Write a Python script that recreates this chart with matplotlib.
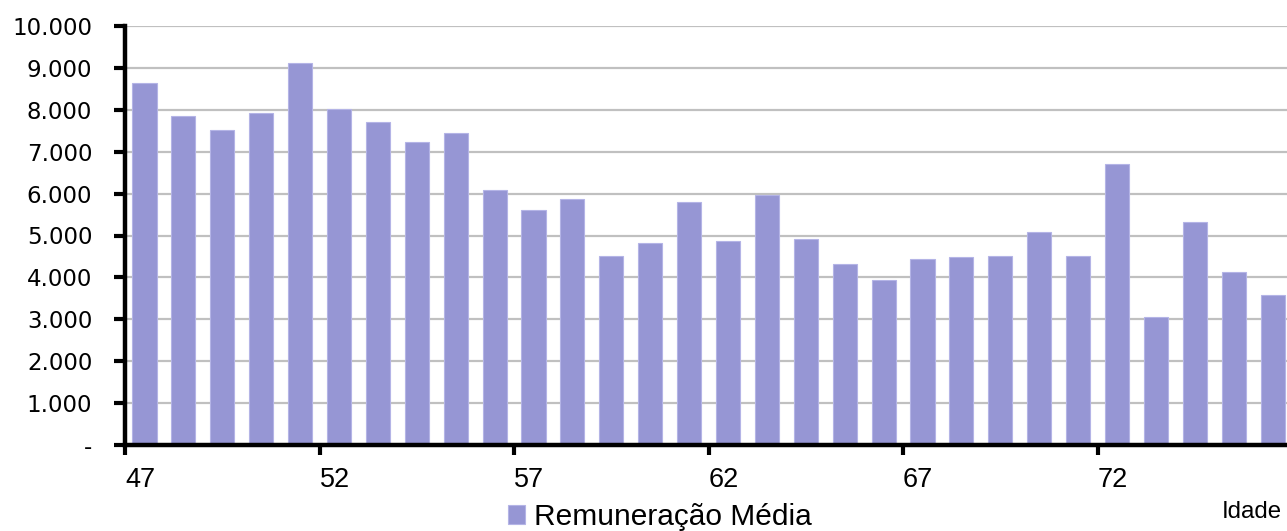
import numpy as np
import matplotlib.pyplot as plt
import matplotlib.transforms as mtransforms
from matplotlib.ticker import FuncFormatter

plt.rcParams['font.family'] = ['Liberation Sans', 'DejaVu Sans']

idade = list(range(47, 77))
remuneracao = [8640, 7850, 7510, 7930, 9120, 8030, 7700, 7220, 7450, 6080,
               5610, 5880, 4500, 4830, 5810, 4880, 5960, 4910, 4310, 3940,
               4450, 4490, 4500, 5080, 4500, 6700, 3050, 5330, 4140, 3580]
yticks = list(range(0, 10001, 1000))
xtick_labels = ['47', '52', '57', '62', '67', '72']

bar_color = '#9696d4'

fig = plt.figure(figsize=(12.87, 5.31), dpi=100)
ax = fig.add_axes([125/1287, 1 - 445/531, 1 - 125/1287, (445 - 26)/531])

x = np.arange(len(idade))
ax.bar(x, remuneracao, width=0.62, color=bar_color, edgecolor='#b4b4e6',
       linewidth=0.8, label='Remuneração Média', zorder=3)

ax.set_ylim(0, 10000)
ax.set_xlim(-0.5, 29.37)
ax.set_yticks(yticks)
ax.yaxis.set_major_formatter(FuncFormatter(
    lambda v, p: '-' if v == 0 else f'{int(v):,}'.replace(',', '.')))
ax.grid(axis='y', color='#c0c0c0', linewidth=1.6, zorder=0)

ax.set_xticks(np.arange(-0.5, 25, 5))
ax.set_xticklabels(xtick_labels)
offset = mtransforms.ScaledTranslation(4/100, 0, fig.dpi_scale_trans)
for lab in ax.get_xticklabels():
    lab.set_horizontalalignment('left')
    lab.set_transform(lab.get_transform() + offset)
for lab in ax.get_yticklabels():
    lab.set_family('DejaVu Sans')

ax.tick_params(axis='y', labelsize=16.5, length=8, width=3, pad=15.5, direction='out')
ax.tick_params(axis='x', labelsize=19.5, length=7, width=3, pad=8.5, direction='out')

for s in ['top', 'right']:
    ax.spines[s].set_visible(False)
ax.spines['left'].set_linewidth(3.2)
ax.spines['bottom'].set_linewidth(3.2)
ax.spines['left'].set_zorder(5)
ax.spines['bottom'].set_zorder(5)

leg = fig.legend(loc='center left', bbox_to_anchor=(508/1287, 1 - 517/531),
                 frameon=False, handlelength=0.57, handleheight=0.57,
                 handletextpad=0.3, borderpad=0, borderaxespad=0,
                 prop={'family': 'Liberation Sans', 'size': 21.5})

fig.text(1252/1287, 1 - 512/531, 'Idade', ha='center', va='center',
         fontsize=17.3, family='Liberation Sans')

fig.savefig('out.png', dpi=100)
